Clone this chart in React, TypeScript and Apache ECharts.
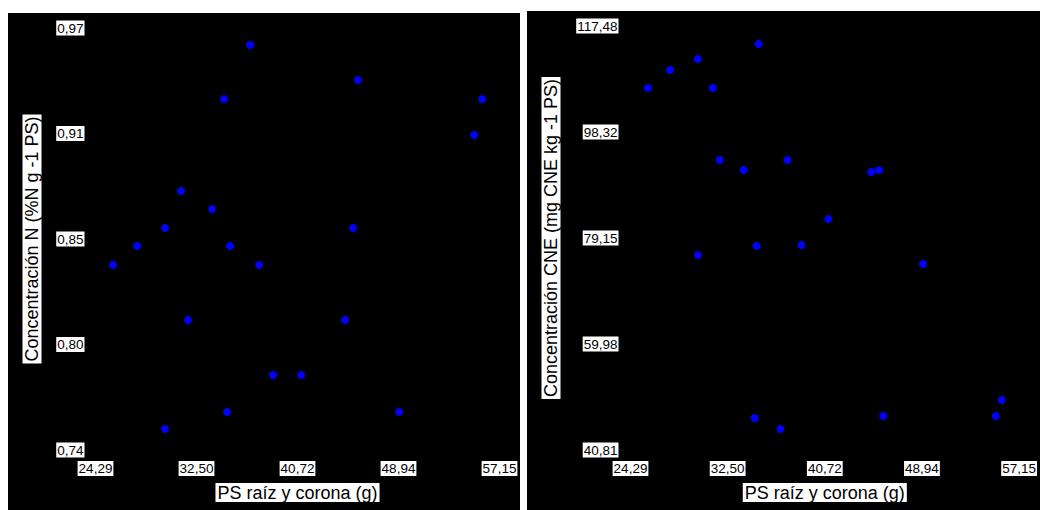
import React, { useEffect, useRef } from "react";
import * as echarts from "echarts";

// Peso seco raíz y corona (g) — same plants in both panels
const psLeft = [25.71, 27.67, 29.94, 31.24, 31.81, 29.94, 33.77, 34.74, 35.23, 34.99, 36.86, 37.59, 38.73, 41.01, 44.58, 45.24, 45.64, 48.98, 55.08, 55.73];
const nConc = [0.8408, 0.8512, 0.861, 0.8812, 0.8109, 0.7514, 0.8713, 0.9313, 0.8512, 0.7607, 0.9607, 0.8408, 0.7809, 0.7809, 0.8109, 0.861, 0.9417, 0.7607, 0.9117, 0.9313];

const psRight = [25.76, 27.62, 29.98, 31.24, 35.12, 31.83, 33.85, 37.56, 29.98, 34.95, 38.74, 41.02, 44.64, 45.31, 49.02, 34.78, 36.97, 45.65, 55.17, 55.68];
const cneConc = [106.27, 109.53, 111.51, 106.27, 114.23, 93.25, 91.44, 93.25, 76.07, 77.7, 77.88, 82.58, 91.08, 91.44, 74.44, 46.6, 44.61, 46.96, 46.96, 49.85];

const xTickLabels = ["24,29", "32,50", "40,72", "48,94", "57,15"];
const xRange = [24.29, 57.15];
const yLeftTickLabels = ["0,74", "0,80", "0,85", "0,91", "0,97"];
const yLeftRange = [0.74, 0.97];
const yRightTickLabels = ["40,81", "59,98", "79,15", "98,32", "117,48"];
const yRightRange = [40.81, 117.48];

const xTitle = "PS raíz y corona (g)";
const yLeftTitle = "Concentración N (%N g -1 PS)";
const yRightTitle = "Concentración CNE (mg CNE kg -1 PS)";

const FONT = "'Liberation Sans', Arial, sans-serif";

function tickValues(range: number[], n: number) {
  const out: number[] = [];
  for (let i = 0; i < n; i++) out.push(range[0] + ((range[1] - range[0]) * i) / (n - 1));
  return out;
}

function labelFor(values: number[], labels: string[]) {
  return (v: number) => {
    let best = 0;
    let d = Infinity;
    values.forEach((t, i) => {
      const dd = Math.abs(t - v);
      if (dd < d) {
        d = dd;
        best = i;
      }
    });
    return labels[best];
  };
}

const tickLabelStyle = {
  color: "#000",
  backgroundColor: "#fff",
  fontFamily: FONT,
  fontSize: 13.5,
  lineHeight: 15,
  padding: [0, 1, 0, 1],
};

const nameStyle = {
  color: "#000",
  backgroundColor: "#fff",
  fontFamily: FONT,
  fontSize: 18,
  lineHeight: 19,
  padding: [0, 2, 0, 2],
};

function makeXAxis(gridIndex: number) {
  const vals = tickValues(xRange, xTickLabels.length);
  return {
    type: "value",
    gridIndex,
    min: xRange[0],
    max: xRange[1],
    name: xTitle,
    nameLocation: "middle",
    nameGap: 33,
    nameTextStyle: nameStyle,
    axisLine: { show: false },
    axisTick: { show: false },
    splitLine: { show: false },
    axisLabel: {
      show: true,
      margin: 11,
      customValues: vals,
      formatter: labelFor(vals, xTickLabels),
      ...tickLabelStyle,
    },
  };
}

function makeYAxis(gridIndex: number, range: number[], labels: string[], title: string, gap: number, margin: number) {
  const vals = tickValues(range, labels.length);
  return {
    type: "value",
    gridIndex,
    min: range[0],
    max: range[1],
    name: title,
    nameLocation: "middle",
    nameRotate: 90,
    nameGap: gap,
    nameTextStyle: nameStyle,
    axisLine: { show: false },
    axisTick: { show: false },
    splitLine: { show: false },
    axisLabel: {
      show: true,
      margin,
      customValues: vals,
      formatter: labelFor(vals, labels),
      ...tickLabelStyle,
    },
  };
}

export default function App() {
  const ref = useRef<HTMLDivElement>(null);

  useEffect(() => {
    if (!ref.current) return;
    const chart = echarts.init(ref.current, null, { renderer: "svg" });
    chart.setOption({
      animation: false,
      backgroundColor: "transparent",
      grid: [
        { left: 95.5, top: 28, width: 404, height: 422, containLabel: false },
        { left: 630.5, top: 26, width: 390, height: 424, containLabel: false },
      ],
      xAxis: [makeXAxis(0), makeXAxis(1)],
      yAxis: [
        makeYAxis(0, yLeftRange, yLeftTickLabels, yLeftTitle, 54, 11),
        makeYAxis(1, yRightRange, yRightTickLabels, yRightTitle, 70, 12),
      ],
      series: [
        {
          type: "scatter",
          xAxisIndex: 0,
          yAxisIndex: 0,
          symbol: "circle",
          symbolSize: 8,
          itemStyle: { color: "#0000ff", opacity: 1 },
          data: psLeft.map((x, i) => [x, nConc[i]]),
        },
        {
          type: "scatter",
          xAxisIndex: 1,
          yAxisIndex: 1,
          symbol: "circle",
          symbolSize: 8,
          itemStyle: { color: "#0000ff", opacity: 1 },
          data: psRight.map((x, i) => [x, cneConc[i]]),
        },
      ],
    });
    return () => chart.dispose();
  }, []);

  return (
    <div style={{ position: "fixed", left: 0, top: 0, width: 1040, height: 510, background: "#fff", overflow: "hidden" }}>
      <div style={{ position: "absolute", left: 8, top: 13, width: 512, height: 497, background: "#000" }} />
      <div style={{ position: "absolute", left: 527, top: 11, width: 513, height: 499, background: "#000" }} />
      <div ref={ref} style={{ position: "absolute", left: 0, top: 0, width: 1040, height: 510 }} />
    </div>
  );
}
